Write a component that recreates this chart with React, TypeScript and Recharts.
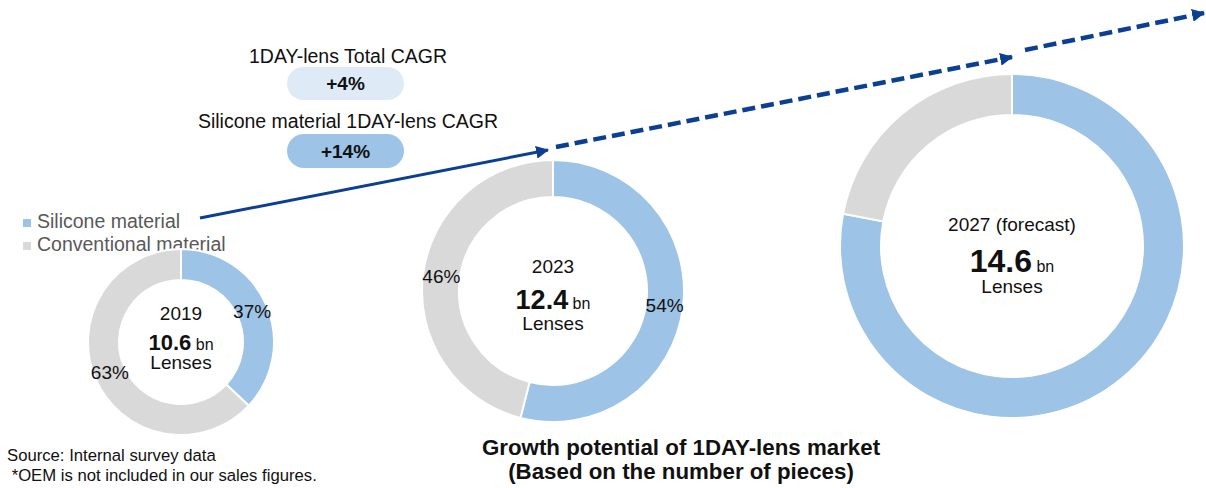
import * as React from "react";
import { PieChart, Pie } from "recharts";

// values
const years = ["2019", "2023", "2027 (forecast)"];
const totalLenses = [10.6, 12.4, 14.6];
const seriesNames = ["Silicone material", "Conventional material"];
const siliconeShare = [37, 54, 78];
const conventionalShare = [63, 46, 22];
const showPercent = [true, true, false];
const cagrTitles = ["1DAY-lens Total CAGR", "Silicone material 1DAY-lens CAGR"];
const cagrValues = ["+4%", "+14%"];
const sourceNotes = ["Source: Internal survey data", " *OEM is not included in our sales figures."];
const titleLines = ["Growth potential of 1DAY-lens market", "(Based on the number of pieces)"];

const W = 1206;
const H = 488;
const FONT = "'Liberation Sans', Arial, sans-serif";
const BLUE = "#9DC3E6";
const GRAY = "#D9D9D9";
const PALE = "#DEEBF7";
const ARROW = "#0A3F94";
const RADIAN = Math.PI / 180;

// donut geometry, one per year
const donuts = [
  { cx: 181, cy: 342, inner: 62, outer: 93, num: 22, yearY: 320, numY: 350, lensY: 369 },
  { cx: 553, cy: 291, inner: 94, outer: 131, num: 27, yearY: 273, numY: 309, lensY: 330 },
  { cx: 1012, cy: 246, inner: 131, outer: 172, num: 32, yearY: 231, numY: 272, lensY: 293 },
];

const colors = [BLUE, GRAY];

const pieData = years.map((_, i) => [
  { name: seriesNames[0], value: siliconeShare[i], fill: colors[0] },
  { name: seriesNames[1], value: conventionalShare[i], fill: colors[1] },
]);

const makeLabel = (show: boolean) => (props: any) => {
  if (!show) return null;
  const { cx, cy, midAngle, innerRadius, outerRadius, value } = props;
  const r = (innerRadius + outerRadius) / 2;
  const x = cx + r * Math.cos(-midAngle * RADIAN);
  const y = cy + r * Math.sin(-midAngle * RADIAN);
  return (
    <text x={x} y={y} textAnchor="middle" dominantBaseline="central" fontSize={19} fill="#111" fontFamily={FONT}>
      {`${value}%`}
    </text>
  );
};

export default function App() {
  return (
    <div style={{ position: "absolute", left: 0, top: 0, width: W, height: H, background: "#fff", fontFamily: FONT }}>
      <PieChart width={W} height={H} margin={{ top: 0, right: 0, bottom: 0, left: 0 }}>
        <defs>
          <marker id="head" viewBox="0 0 12 12" refX={11} refY={6} markerWidth={13} markerHeight={13} markerUnits="userSpaceOnUse" orient="auto">
            <path d="M0,0 L12,6 L0,12 z" fill={ARROW} />
          </marker>
        </defs>

        {donuts.map((d, i) => (
          <Pie
            key={years[i]}
            data={pieData[i]}
            dataKey="value"
            nameKey="name"
            cx={d.cx}
            cy={d.cy}
            innerRadius={d.inner}
            outerRadius={d.outer}
            startAngle={90}
            endAngle={-270}
            stroke="#fff"
            strokeWidth={2}
            label={makeLabel(showPercent[i])}
            labelLine={false}
            isAnimationActive={false}
          />
        ))}

        {donuts.map((d, i) => (
          <g key={`c${i}`} fontFamily={FONT} fill="#111" textAnchor="middle">
            <text x={d.cx} y={d.yearY} fontSize={19}>{years[i]}</text>
            <text x={d.cx} y={d.numY}>
              <tspan fontSize={d.num} fontWeight="bold">{totalLenses[i].toFixed(1)}</tspan>
              <tspan fontSize={16}>{"  bn"}</tspan>
            </text>
            <text x={d.cx} y={d.lensY} fontSize={19}>Lenses</text>
          </g>
        ))}

        {/* growth arrows */}
        <line x1={200} y1={218} x2={548} y2={150} stroke={ARROW} strokeWidth={3} markerEnd="url(#head)" />
        <line x1={556} y1={147} x2={1012} y2={57} stroke={ARROW} strokeWidth={4.5} strokeDasharray="13 6" markerEnd="url(#head)" />
        <line x1={1025} y1={50} x2={1204} y2={13} stroke={ARROW} strokeWidth={4.5} strokeDasharray="13 6" markerEnd="url(#head)" />

        {/* CAGR badges */}
        <g fontFamily={FONT} textAnchor="middle">
          <text x={348} y={63} fontSize={19.5} fill="#111">{cagrTitles[0]}</text>
          <rect x={287} y={67} width={117} height={33} rx={16.5} fill={PALE} />
          <text x={345.5} y={90} fontSize={19} fontWeight="bold" fill="#111">{cagrValues[0]}</text>
          <text x={348} y={128} fontSize={19.5} fill="#111">{cagrTitles[1]}</text>
          <rect x={287} y={134} width={117} height={34} rx={17} fill={BLUE} />
          <text x={345.5} y={158} fontSize={19} fontWeight="bold" fill="#111">{cagrValues[1]}</text>
        </g>

        {/* legend */}
        <g fontFamily={FONT} fontSize={19.5} fill="#595959">
          {seriesNames.map((n, i) => (
            <g key={n}>
              <rect x={23} y={219 + i * 23} width={8} height={8} fill={colors[i]} />
              <text x={37} y={228 + i * 23}>{n}</text>
            </g>
          ))}
        </g>

        {/* notes and title */}
        <g fontFamily={FONT} fontSize={16.7} fill="#111">
          <text x={7} y={461} xmlSpace="preserve">{sourceNotes[0]}</text>
          <text x={7} y={481} xmlSpace="preserve">{sourceNotes[1]}</text>
        </g>
        <g fontFamily={FONT} fontSize={22.3} fontWeight="bold" fill="#111" textAnchor="middle">
          <text x={681} y={455}>{titleLines[0]}</text>
          <text x={681} y={479}>{titleLines[1]}</text>
        </g>
      </PieChart>
    </div>
  );
}
